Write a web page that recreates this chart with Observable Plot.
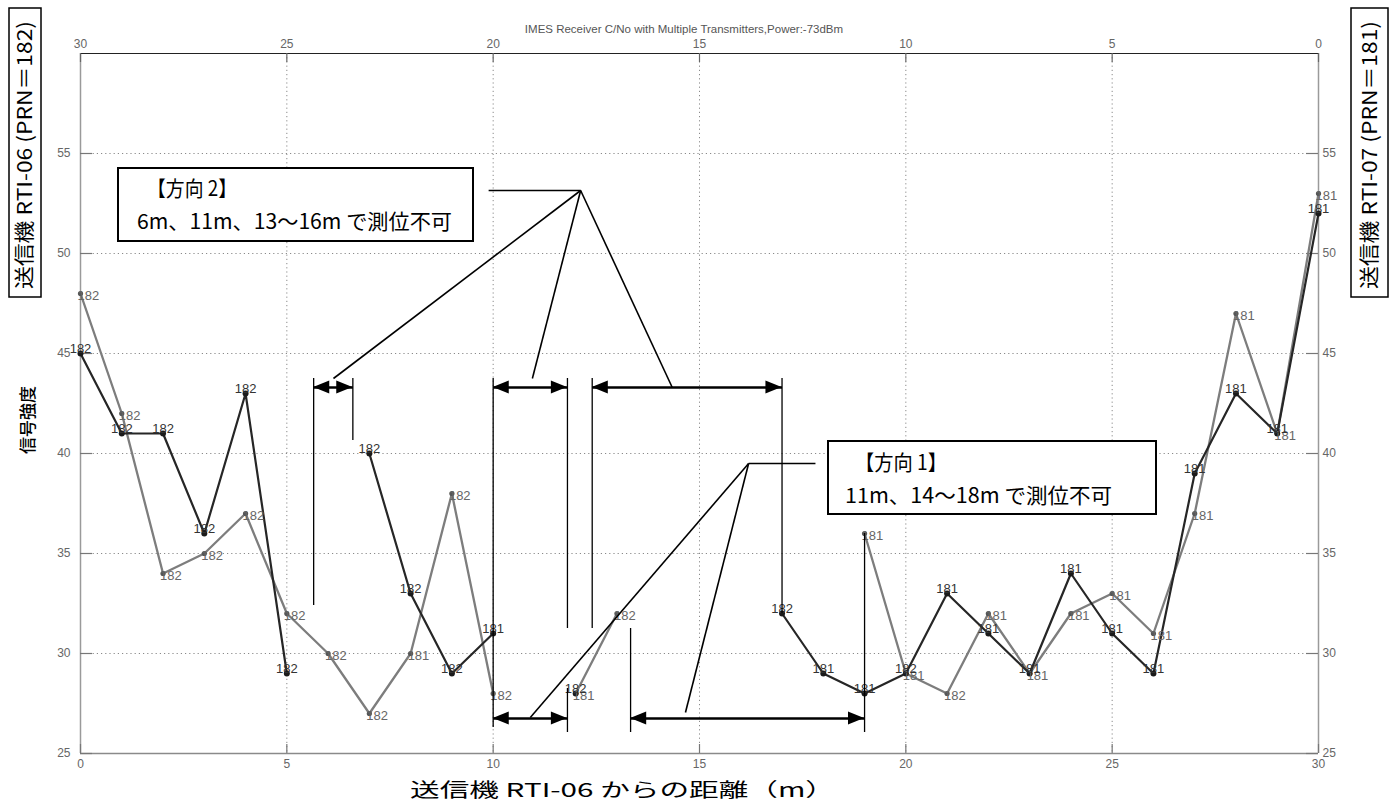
<!DOCTYPE html>
<html>
<head>
<meta charset="utf-8">
<script src="https://cdn.jsdelivr.net/npm/d3@7"></script>
<script src="https://cdn.jsdelivr.net/npm/@observablehq/plot@0.6"></script>
<style>
  html, body { margin: 0; padding: 0; background: #fff; }
  #chart { position: relative; width: 1394px; height: 805px; }
</style>
</head>
<body>
<div id="chart"></div>
<script>
// ---- data ----
const distance = [0,1,2,3,4,5,6,7,8,9,10,11,12,13,14,15,16,17,18,19,20,21,22,23,24,25,26,27,28,29,30];
// 方向1 (gray series)
const dir1Signal = [48,42,34,35,37,32,30,27,30,38,28,null,28,32,null,null,null,null,null,36,29,28,32,29,32,33,31,37,47,41,53];
const dir1Prn    = [182,182,182,182,182,182,182,182,181,182,182,null,181,182,null,null,null,null,null,181,181,182,181,181,181,181,181,181,181,181,181];
// 方向2 (dark series)
const dir2Signal = [45,41,41,36,43,29,null,40,33,29,31,null,28,null,null,null,null,32,29,28,29,33,31,29,34,31,29,39,43,41,52];
const dir2Prn    = [182,182,182,182,182,182,null,182,182,182,181,null,182,null,null,null,null,182,181,181,182,181,181,181,181,181,181,181,181,181,181];

const xTicks = [0,5,10,15,20,25,30];
const yTicks = [25,30,35,40,45,50,55];
const xGrid = [5,10,15,20,25];
const yGrid = [30,35,40,45,50,55];

const titleText = "IMES Receiver C/No with Multiple Transmitters,Power:-73dBm";
const xTitle = "送信機 RTI-06 からの距離（m）";
const yTitle = "信号強度";
const leftBoxText = "送信機 RTI-06 (PRN＝182)";
const rightBoxText = "送信機 RTI-07 (PRN＝181)";
const note2 = ["【方向 2】", "6m、11m、13～16m で測位不可"];
const note1 = ["【方向 1】", "11m、14～18m で測位不可"];

// annotation geometry in data units (distance m, signal)
const dir2Arrows = [{a:5.65, b:6.6, y:43.3}, {a:10.0, b:11.8, y:43.3}, {a:12.4, b:17.0, y:43.3}];
const dir1Arrows = [{a:10.0, b:11.8, y:26.75}, {a:13.33, b:19.0, y:26.75}];
const guideLines = [
  {x:5.65, y1:43.75, y2:32.4}, {x:6.6, y1:43.75, y2:40.65}, {x:10.0, y1:43.75, y2:26.3},
  {x:11.8, y1:43.75, y2:31.25}, {x:12.4, y1:43.75, y2:31.25}, {x:17.0, y1:43.75, y2:32},
  {x:11.8, y1:28.25, y2:26.05}, {x:13.33, y1:31.25, y2:26.05}, {x:19.0, y1:36, y2:26.05}
];
const leaders = [
  {x1:9.89, y1:53.15, x2:12.12, y2:53.15},
  {x1:12.12, y1:53.15, x2:6.13, y2:43.75},
  {x1:12.12, y1:53.15, x2:10.95, y2:43.75},
  {x1:12.12, y1:53.15, x2:14.34, y2:43.3},
  {x1:17.81, y1:39.5, x2:16.19, y2:39.5},
  {x1:16.19, y1:39.5, x2:10.9, y2:26.8},
  {x1:16.19, y1:39.5, x2:14.66, y2:27.05}
];

const rows1 = distance.map((d,i) => ({d, v: dir1Signal[i] == null ? NaN : dir1Signal[i], prn: dir1Prn[i]}));
const rows2 = distance.map((d,i) => ({d, v: dir2Signal[i] == null ? NaN : dir2Signal[i], prn: dir2Prn[i]}));
const pts1 = rows1.filter(r => !isNaN(r.v));
const pts2 = rows2.filter(r => !isNaN(r.v));

const allArrows = dir2Arrows.concat(dir1Arrows);
const headLen = 0.39, headHalf = 0.32;
const heads = [];
allArrows.forEach((s, i) => {
  heads.push({id: "L"+i, x: s.a, y1: s.y, y2: s.y});
  heads.push({id: "L"+i, x: s.a + headLen, y1: s.y - headHalf, y2: s.y + headHalf});
  heads.push({id: "R"+i, x: s.b - headLen, y1: s.y - headHalf, y2: s.y + headHalf});
  heads.push({id: "R"+i, x: s.b, y1: s.y, y2: s.y});
});

const W = 1394, H = 805, mL = 80, mR = 76, mT = 53, mB = 52;
const innerW = W - mL - mR, innerH = H - mT - mB;
const tickFont = "Liberation Sans, Arial, sans-serif";

const plot = Plot.plot({
  width: W, height: H,
  marginLeft: mL, marginRight: mR, marginTop: mT, marginBottom: mB,
  style: {fontFamily: tickFont, background: "#fff", overflow: "visible"},
  x: {domain: [0, 30], label: null},
  y: {domain: [25, 60], label: null},
  marks: [
    Plot.ruleX(xGrid, {stroke: "#8a8a8a", strokeDasharray: "1.2,3", strokeWidth: 1}),
    Plot.ruleY(yGrid, {stroke: "#8a8a8a", strokeDasharray: "1.2,3", strokeWidth: 1}),
    Plot.ruleY([25], {stroke: "#8a8a8a", strokeWidth: 1.5}),
    Plot.ruleX([0], {stroke: "#9a9a9a", strokeWidth: 1.5}),
    Plot.ruleX([30], {stroke: "#9a9a9a", strokeWidth: 1.5}),
    Plot.ruleY([60], {stroke: "#222", strokeWidth: 1.2}),
    // inward ticks
    Plot.ruleX(xTicks, {insetTop: innerH - 9, stroke: "#777", strokeWidth: 1.2}),
    Plot.ruleX(xTicks, {insetBottom: innerH - 9, stroke: "#666", strokeWidth: 1.2}),
    Plot.ruleY(yTicks, {insetRight: innerW - 12, stroke: "#777", strokeWidth: 1.2}),
    Plot.ruleY(yTicks, {insetLeft: innerW - 12, stroke: "#777", strokeWidth: 1.2}),
    // axes
    Plot.axisX({anchor: "bottom", ticks: xTicks, tickSize: 0, tickPadding: 6, label: null, fontSize: 12, fill: "#666"}),
    Plot.axisX({anchor: "top", ticks: xTicks, tickSize: 0, tickPadding: 6, label: null, fontSize: 12, fill: "#666", tickFormat: d => String(30 - d)}),
    Plot.axisY({anchor: "left", ticks: yTicks, tickSize: 0, tickPadding: 10, label: null, fontSize: 12, fill: "#666"}),
    Plot.axisY({anchor: "right", ticks: yTicks, tickSize: 0, tickPadding: 4, label: null, fontSize: 12, fill: "#666"}),
    // series
    Plot.line(rows1, {x: "d", y: "v", stroke: "#7d7d7d", strokeWidth: 2.3}),
    Plot.line(rows2, {x: "d", y: "v", stroke: "#262626", strokeWidth: 2.2}),
    Plot.dot(pts1, {x: "d", y: "v", r: 2.6, fill: "#555", stroke: "none"}),
    Plot.dot(pts2, {x: "d", y: "v", r: 3, fill: "#1a1a1a", stroke: "none"}),
    Plot.text(pts1, {x: "d", y: "v", text: d => String(d.prn), textAnchor: "start", dx: -3, dy: 2, fontSize: 13, fill: "#666"}),
    Plot.text(pts2, {x: "d", y: "v", text: d => String(d.prn), textAnchor: "middle", lineAnchor: "bottom", dy: -1, fontSize: 13, fill: "#333"}),
    // annotations
    Plot.ruleX(guideLines, {x: "x", y1: "y1", y2: "y2", stroke: "#000", strokeWidth: 1.3}),
    Plot.link(allArrows, {x1: "a", x2: "b", y1: "y", y2: "y", stroke: "#000", strokeWidth: 2.5}),
    Plot.areaY(heads, {x: "x", y1: "y1", y2: "y2", z: "id", fill: "#000", curve: "linear"}),
    Plot.link(leaders, {x1: "x1", y1: "y1", x2: "x2", y2: "y2", stroke: "#000", strokeWidth: 1.6})
  ]
});

document.getElementById("chart").appendChild(plot);

// overlay texts and boxes
const svg = d3.select(plot);
const jp = "Noto Sans CJK JP, sans-serif";
const g = svg.append("g").attr("text-anchor", "start");

g.append("text").attr("x", 684).attr("y", 33).attr("text-anchor", "middle")
  .attr("font-family", tickFont).attr("font-size", 11.5).attr("fill", "#555").text(titleText);

g.append("text").attr("x", 410).attr("y", 797).attr("text-anchor", "start").attr("font-family", jp).attr("font-size", 19)
  .attr("fill", "#000").attr("textLength", 425).attr("lengthAdjust", "spacingAndGlyphs").text(xTitle);

g.append("text").attr("transform", "translate(34,420) rotate(-90)").attr("text-anchor", "middle")
  .attr("font-family", jp).attr("font-size", 17).attr("font-weight", 500).attr("fill", "#000").text(yTitle);

function sideBox(x, w, label) {
  g.append("rect").attr("x", x).attr("y", 8).attr("width", w).attr("height", 289)
    .attr("fill", "#fff").attr("stroke", "#000").attr("stroke-width", 1.5);
  g.append("text").attr("transform", `translate(${x + w / 2 + 7},${155}) rotate(-90)`)
    .attr("text-anchor", "middle").attr("font-family", jp).attr("font-size", 20).attr("fill", "#000")
    .attr("textLength", 268).attr("lengthAdjust", "spacingAndGlyphs").text(label);
}
sideBox(9, 32, leftBoxText);
sideBox(1351, 37, rightBoxText);

function noteBox(x, y, w, h, lines, pos) {
  g.append("rect").attr("x", x).attr("y", y).attr("width", w).attr("height", h)
    .attr("fill", "#fff").attr("stroke", "#000").attr("stroke-width", 2);
  lines.forEach((t, i) => {
    g.append("text").attr("x", pos[i][0]).attr("y", pos[i][1]).attr("text-anchor", "start").attr("font-family", jp)
      .attr("font-size", 21).attr("fill", "#000")
      .attr("textLength", pos[i][2]).attr("lengthAdjust", "spacingAndGlyphs").text(t);
  });
}
noteBox(118, 168, 355, 73, note2, [[147, 196, 90], [137, 229, 315]]);
noteBox(828, 441, 328, 73, note1, [[855, 470, 92], [845, 503, 267]]);
</script>
</body>
</html>
